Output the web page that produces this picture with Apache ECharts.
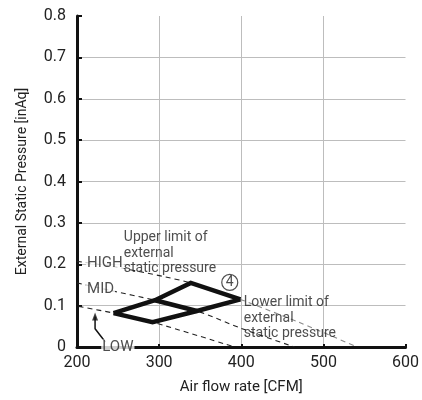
<!DOCTYPE html>
<html>
<head>
<meta charset="utf-8">
<script src="https://cdn.jsdelivr.net/npm/echarts@6/dist/echarts.min.js"></script>
<style>
html,body{margin:0;padding:0;background:#fff}
#chart{width:422px;height:400px}
</style>
</head>
<body>
<div id="chart"></div>
<script>
// fan curves, [CFM, inAq]
var highCurve = [[200,0.207],[248,0.193],[338.5,0.155],[399,0.115]];
var highCurveTail = [[399,0.115],[470,0.06],[541,0]];
var midCurve = [[200,0.155],[240,0.137],[295,0.113],[346,0.087],[400,0.045],[465,0]];
var lowCurve = [[202,0.098],[244.5,0.082],[292,0.06],[392,0]];
// operating range (thick outline)
var upperLimit = [[244.5,0.082],[295,0.113],[338.5,0.155],[399,0.115]];
var lowerLimit = [[244.5,0.082],[292,0.06],[346,0.087],[399,0.115]];
var midEdge = [[295,0.113],[346,0.087]];
// LOW pointer
var lowArrow = [[234.5,0.012],[222,0.044],[222,0.074]];
var lowArrowHead = [[222,0.074]];
// annotations
var fanLabels = [
    {name:'HIGH', value:[211,0.203]},
    {name:'MID', value:[211,0.139]},
    {name:'LOW', value:[229.5,0]}
];
var notes = [
    {name:'Upper limit of\nexternal\nstatic pressure', value:[257,0.226]},
    {name:'Lower limit of\nexternal\nstatic pressure', value:[403,0.069]}
];
var modelMark = [[386,0.156]];
var xMin = 200, xMax = 600, xStep = 100;
var yMin = 0, yMax = 0.8, yStep = 0.1;

var font = 'Roboto, "Noto Sans", sans-serif';
var chart = echarts.init(document.getElementById('chart'));

function dashed(data, color) {
    return {
        type:'line', data:data, smooth:0.3, symbol:'none', silent:true,
        lineStyle:{color:color, width:1.1, type:[5,4]}, z:2
    };
}
function thick(data) {
    return {
        type:'line', data:data, symbol:'none', silent:true,
        lineStyle:{color:'#111', width:4.5, join:'miter'}, z:5
    };
}

var option = {
    animation:false,
    grid:{left:77, right:15, top:16, bottom:53},
    xAxis:{
        type:'value', min:xMin, max:xMax, interval:xStep,
        name:'Air flow rate [CFM]', nameLocation:'middle', nameGap:33,
        nameTextStyle:{color:'#222', fontSize:15, fontFamily:font},
        axisLine:{show:true, lineStyle:{color:'#111', width:3}},
        axisTick:{show:true, inside:true, length:3, lineStyle:{color:'#111', width:2}},
        axisLabel:{color:'#222', fontSize:16, fontFamily:font, margin:8},
        splitLine:{show:true, showMinLine:false, showMaxLine:false, lineStyle:{color:'#bdbdbd', width:1}}
    },
    yAxis:{
        type:'value', min:yMin, max:yMax, interval:yStep,
        name:'External Static Pressure [inAq]', nameLocation:'middle', nameGap:48,
        nameTextStyle:{color:'#222', fontSize:14, fontFamily:font},
        axisLine:{show:true, lineStyle:{color:'#111', width:3}},
        axisTick:{show:true, inside:true, length:5, lineStyle:{color:'#111', width:2}},
        axisLabel:{color:'#222', fontSize:16, fontFamily:font, margin:11},
        splitLine:{show:true, showMinLine:false, showMaxLine:false, lineStyle:{color:'#bdbdbd', width:1}}
    },
    series:[
        dashed(highCurve, '#222'),
        dashed(highCurveTail, '#8a8a8a'),
        dashed(midCurve, '#222'),
        dashed(lowCurve, '#222'),
        thick(upperLimit),
        thick(lowerLimit),
        thick(midEdge),
        {
            type:'line', data:lowArrow, symbol:'none', silent:true,
            lineStyle:{color:'#111', width:1.5}, z:3
        },
        {
            type:'scatter', data:lowArrowHead, symbol:'triangle', symbolSize:[6,8],
            itemStyle:{color:'#111'}, silent:true, z:3
        },
        {
            type:'scatter', data:fanLabels, symbolSize:0, clip:false, silent:true, z:6,
            label:{
                show:true, position:'right', distance:0, formatter:'{b}',
                color:'#222', fontSize:15, fontFamily:font,
                backgroundColor:'#fff', padding:[0,1]
            }
        },
        {
            type:'scatter', data:notes, symbolSize:0, clip:false, silent:true, z:6,
            label:{
                show:true, position:'right', distance:0, formatter:'{b}',
                color:'#222', fontSize:14, lineHeight:15.5, fontFamily:font
            }
        },
        {
            type:'scatter', data:modelMark, symbol:'circle', symbolSize:16, silent:true, z:6,
            itemStyle:{color:'#fff', borderColor:'#222', borderWidth:1.2},
            label:{show:true, position:'inside', formatter:'4', color:'#222', fontSize:14, fontFamily:font}
        }
    ]
};
chart.setOption(option);
</script>
</body>
</html>
